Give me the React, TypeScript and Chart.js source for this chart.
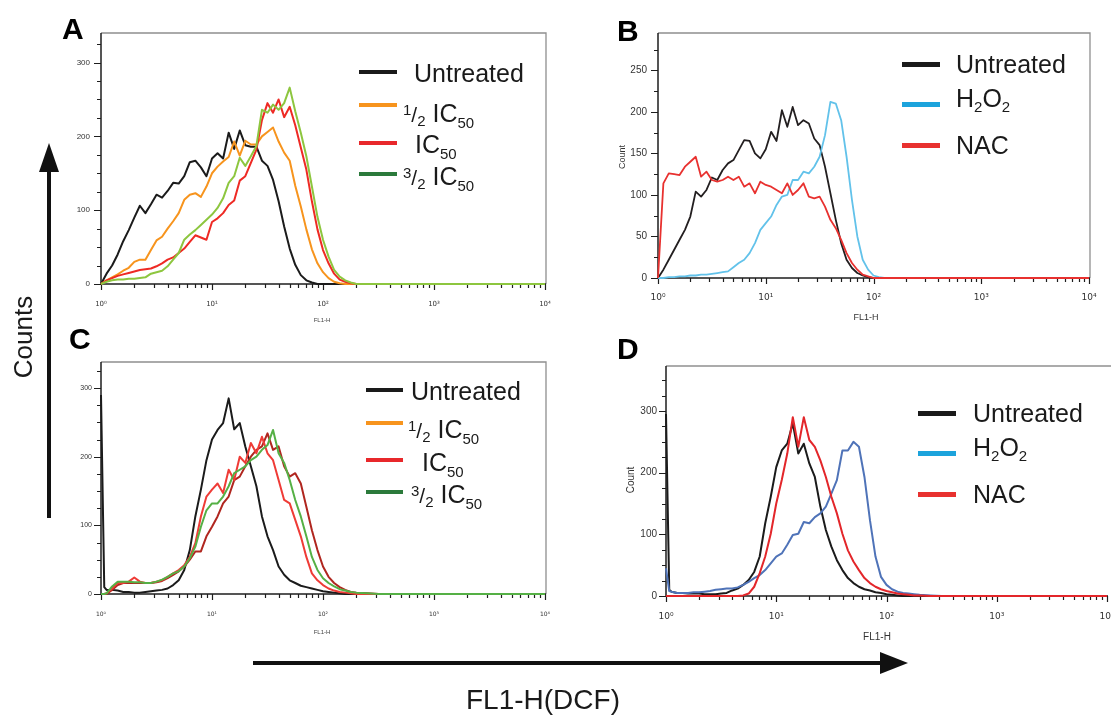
import React, { useEffect, useRef } from 'react';
import { Chart, registerables } from 'chart.js';

Chart.register(...registerables);

const FONT = '"Liberation Sans", Arial, Helvetica, sans-serif';
const TICK_FONT = '"DejaVu Sans", "Liberation Sans", sans-serif';

// ---------- channel bins (FL1-H fluorescence) ----------
const channels = [1, 1.122, 1.259, 1.413, 1.585, 1.778, 1.995, 2.239, 2.512, 2.818,
  3.162, 3.548, 3.981, 4.467, 5.012, 5.623, 6.31, 7.079, 7.943, 8.913,
  10, 11.22, 12.59, 14.13, 15.85, 17.78, 19.95, 22.39, 25.12, 28.18,
  31.62, 35.48, 39.81, 44.67, 50.12, 56.23, 63.1, 70.79, 79.43, 89.13,
  100, 112.2, 125.9, 141.3, 158.5, 177.8, 199.5, 251.2, 316.2, 1000, 10000];

const channelsSpike = [1, 1.07, 1.122, 1.259, 1.413, 1.585, 1.778, 1.995, 2.239, 2.512, 2.818,
  3.162, 3.548, 3.981, 4.467, 5.012, 5.623, 6.31, 7.079, 7.943, 8.913,
  10, 11.22, 12.59, 14.13, 15.85, 17.78, 19.95, 22.39, 25.12, 28.18,
  31.62, 35.48, 39.81, 44.67, 50.12, 56.23, 63.1, 70.79, 79.43, 89.13,
  100, 112.2, 125.9, 141.3, 158.5, 177.8, 199.5, 251.2, 316.2, 1000, 10000];

// ---------- Panel A ----------
const untreatedA = [0, 14, 25, 40, 58, 73, 90, 106, 96, 108,
  121, 117, 126, 137, 136, 146, 165, 167, 158, 146,
  170, 177, 170, 205, 183, 208, 188, 186, 186, 167,
  160, 141, 112, 78, 48, 26, 12, 5, 2, 0,
  0, 0, 0, 0, 0, 0, 0, 0, 0, 0, 0];
const halfIC50A = [0, 5, 9, 13, 18, 22, 30, 33, 33, 46,
  59, 64, 75, 85, 96, 114, 121, 123, 118, 132,
  150, 159, 166, 172, 193, 174, 194, 189, 189, 200,
  206, 212, 193, 178, 167, 133, 105, 74, 47, 28,
  16, 8, 3, 1, 0, 0, 0, 0, 0, 0, 0];
const ic50A = [0, 5, 8, 11, 13, 15, 17, 19, 20, 21,
  24, 28, 33, 36, 42, 48, 57, 66, 63, 60,
  84, 89, 96, 107, 113, 140, 146, 164, 182, 222,
  245, 232, 250, 226, 240, 215, 185, 155, 112, 74,
  46, 28, 14, 6, 3, 1, 0, 0, 0, 0, 0];
const threeHalfIC50A = [0, 3, 5, 6, 6, 7, 7, 8, 9, 14,
  16, 18, 24, 33, 42, 60, 67, 73, 80, 87,
  94, 103, 116, 137, 146, 171, 160, 173, 187, 236,
  232, 243, 236, 245, 266, 234, 205, 173, 132, 91,
  60, 37, 19, 10, 5, 2, 0, 0, 0, 0, 0];

// ---------- Panel B ----------
const untreatedB = [0, 10, 22, 34, 46, 58, 74, 104, 98, 106,
  121, 118, 130, 138, 142, 154, 166, 165, 150, 144,
  155, 176, 165, 202, 182, 206, 184, 190, 186, 168,
  160, 134, 102, 70, 42, 22, 12, 6, 3, 1,
  0, 0, 0, 0, 0, 0, 0, 0, 0, 0, 0];
const h2o2B = [0, 0, 1, 1, 2, 2, 3, 3, 4, 4,
  5, 6, 7, 8, 13, 18, 22, 30, 42, 58,
  66, 74, 88, 98, 100, 118, 118, 128, 126, 134,
  146, 172, 212, 210, 190, 146, 94, 50, 22, 10,
  3, 1, 0, 0, 0, 0, 0, 0, 0, 0, 0];
const nacB = [0, 114, 126, 125, 124, 134, 140, 146, 122, 128,
  118, 116, 118, 122, 118, 122, 110, 114, 102, 116,
  112, 110, 106, 102, 114, 100, 106, 114, 98, 96,
  98, 86, 70, 60, 46, 30, 18, 10, 4, 2,
  0, 0, 0, 0, 0, 0, 0, 0, 0, 0, 0];

// ---------- Panel C ----------
const untreatedC = [290, 10, 6, 6, 5, 3, 3, 2, 2, 3, 4,
  5, 6, 8, 13, 20, 35, 64, 113, 152, 195,
  225, 239, 249, 285, 240, 249, 215, 186, 157, 113,
  84, 64, 40, 28, 20, 16, 12, 10, 8, 6,
  4, 3, 2, 1, 0, 0, 0, 0, 0, 0, 0];
const halfIC50C = [0, 0, 0, 6, 13, 16, 16, 16, 16, 16, 16,
  17, 19, 23, 28, 33, 40, 50, 62, 62, 84,
  98, 113, 132, 142, 166, 171, 186, 200, 210, 215,
  234, 210, 215, 186, 171, 176, 161, 127, 93, 64,
  40, 25, 16, 10, 6, 3, 2, 1, 0, 0, 0];
const ic50C = [0, 0, 1, 8, 16, 16, 18, 24, 18, 16, 16,
  18, 20, 25, 30, 35, 42, 54, 74, 113, 142,
  152, 161, 147, 181, 166, 200, 191, 220, 205, 229,
  205, 195, 166, 137, 132, 108, 84, 54, 30, 20,
  13, 8, 5, 3, 2, 1, 0, 0, 0, 0, 0];
const threeHalfIC50C = [0, 0, 1, 11, 18, 18, 18, 17, 17, 16, 16,
  18, 21, 25, 30, 33, 40, 52, 69, 98, 122,
  132, 132, 142, 157, 176, 181, 186, 195, 200, 210,
  217, 239, 205, 191, 166, 137, 113, 84, 54, 35,
  23, 16, 11, 7, 5, 3, 2, 1, 0, 0, 0];

// ---------- Panel D ----------
const untreatedD = [295, 10, 7, 5, 5, 4, 4, 4, 3, 3, 3,
  4, 5, 9, 12, 18, 26, 39, 64, 118, 161,
  209, 236, 247, 280, 231, 247, 215, 193, 145, 107,
  80, 58, 42, 29, 21, 15, 11, 9, 6, 5,
  3, 2, 1, 0, 0, 0, 0, 0, 0, 0, 0];
const h2o2D = [45, 8, 7, 5, 5, 5, 6, 6, 7, 8, 10,
  11, 12, 12, 14, 18, 23, 29, 34, 42, 53,
  64, 69, 83, 99, 101, 120, 118, 128, 134, 145,
  166, 188, 236, 236, 250, 242, 193, 123, 64, 31,
  18, 11, 7, 5, 4, 3, 2, 1, 0, 0, 0];
const nacD = [0, 0, 0, 0, 0, 0, 0, 0, 0, 0, 0,
  0, 0, 0, 0, 1, 4, 15, 37, 64, 101,
  150, 188, 231, 290, 242, 290, 253, 242, 220, 193,
  161, 134, 101, 74, 56, 42, 29, 21, 15, 11,
  8, 6, 4, 3, 2, 1, 1, 0, 0, 0, 0];

// ---------- axis ticks ----------
const decades = [1, 10, 100, 1000, 10000];
const minorSteps = [2, 3, 4, 5, 6, 7, 8, 9];
const decadeLabels = ['10\u2070', '10\u00B9', '10\u00B2', '10\u00B3', '10\u2074'];

type Series = { label: string; values: number[]; color: string; width: number };
type Spec = {
  left: number; top: number; width: number; height: number;
  areaLeft: number; areaTop: number; areaRight: number; areaBottom: number;
  frameRight: boolean;
  yMax: number; yStep: number; yMajor: number; tickFont: number; xTickFont: number; xPad: number; yPad: number;
  bins: number[]; series: Series[];
};

const panelA: Spec = {
  left: 30, top: 15, width: 530, height: 315,
  areaLeft: 101, areaTop: 33, areaRight: 545, areaBottom: 284, frameRight: true,
  yMax: 340, yStep: 25, yMajor: 100, tickFont: 8, xTickFont: 7, xPad: 16, yPad: 11,
  bins: channels,
  series: [
    { label: 'Untreated', values: untreatedA, color: '#1b1b1b', width: 2 },
    { label: '1/2 IC50', values: halfIC50A, color: '#f7941d', width: 2 },
    { label: 'IC50', values: ic50A, color: '#ee2a24', width: 2 },
    { label: '3/2 IC50', values: threeHalfIC50A, color: '#8dc63f', width: 2 },
  ],
};
const panelB: Spec = {
  left: 595, top: 15, width: 510, height: 315,
  areaLeft: 658, areaTop: 33, areaRight: 1089, areaBottom: 278, frameRight: true,
  yMax: 295, yStep: 25, yMajor: 50, tickFont: 10, xTickFont: 9, xPad: 14, yPad: 11,
  bins: channels,
  series: [
    { label: 'Untreated', values: untreatedB, color: '#231f20', width: 1.8 },
    { label: 'H2O2', values: h2o2B, color: '#62c2ea', width: 1.8 },
    { label: 'NAC', values: nacB, color: '#e8312f', width: 1.8 },
  ],
};
const panelC: Spec = {
  left: 30, top: 345, width: 530, height: 305,
  areaLeft: 101, areaTop: 362, areaRight: 545, areaBottom: 594, frameRight: true,
  yMax: 338, yStep: 25, yMajor: 100, tickFont: 7, xTickFont: 6, xPad: 17, yPad: 9,
  bins: channelsSpike,
  series: [
    { label: 'Untreated', values: untreatedC, color: '#1b1b1b', width: 2 },
    { label: '1/2 IC50', values: halfIC50C, color: '#b0261f', width: 2 },
    { label: 'IC50', values: ic50C, color: '#ef3b36', width: 2 },
    { label: '3/2 IC50', values: threeHalfIC50C, color: '#55b045', width: 2 },
  ],
};
const panelD: Spec = {
  left: 600, top: 350, width: 530, height: 300,
  areaLeft: 666, areaTop: 366, areaRight: 1107, areaBottom: 596, frameRight: false,
  yMax: 373, yStep: 25, yMajor: 100, tickFont: 10, xTickFont: 9, xPad: 15, yPad: 9,
  bins: channelsSpike,
  series: [
    { label: 'Untreated', values: untreatedD, color: '#1b1b1b', width: 2 },
    { label: 'H2O2', values: h2o2D, color: '#4f73b8', width: 2 },
    { label: 'NAC', values: nacD, color: '#e3262a', width: 2 },
  ],
};

function isDecade(v: number) {
  const e = Math.log10(v);
  return Math.abs(e - Math.round(e)) < 1e-6;
}

function Histogram({ spec }: { spec: Spec }) {
  const ref = useRef<HTMLCanvasElement | null>(null);
  useEffect(() => {
    const canvas = ref.current;
    if (!canvas) return;
    const yAxisWidth = spec.areaLeft - spec.left;
    const xAxisHeight = spec.top + spec.height - spec.areaBottom;
    const padTop = spec.areaTop - spec.top;
    const padRight = spec.left + spec.width - spec.areaRight;

    const framePlugin = {
      id: 'frame',
      beforeDatasetsDraw(chart: any) {
        const { ctx, chartArea } = chart;
        const { left, right, top, bottom } = chartArea;
        const xs = chart.scales.x;
        const ys = chart.scales.y;
        ctx.save();
        ctx.strokeStyle = '#8f8f8f';
        ctx.lineWidth = 1.3;
        ctx.beginPath();
        ctx.moveTo(left, top);
        if (spec.frameRight) {
          ctx.lineTo(right + 1, top);
          ctx.lineTo(right + 1, bottom);
        } else {
          ctx.lineTo(chart.width, top);
        }
        ctx.stroke();
        ctx.strokeStyle = '#1e1e1e';
        ctx.lineWidth = 1.5;
        ctx.beginPath();
        ctx.moveTo(left, top);
        ctx.lineTo(left, bottom);
        ctx.lineTo(right + 1, bottom);
        ctx.stroke();
        ctx.lineWidth = 1.2;
        ctx.beginPath();
        ys.ticks.forEach((t: any) => {
          const py = Math.round(ys.getPixelForValue(t.value)) + 0.5;
          const len = t.value % spec.yMajor === 0 ? 7 : 4;
          ctx.moveTo(left - len, py);
          ctx.lineTo(left, py);
        });
        xs.ticks.forEach((t: any) => {
          const px = Math.round(xs.getPixelForValue(t.value)) + 0.5;
          const len = isDecade(t.value) ? 6 : 4;
          ctx.moveTo(px, bottom);
          ctx.lineTo(px, bottom + len);
        });
        ctx.stroke();
        ctx.restore();
      },
    };

    const n = spec.series.length;
    const chart = new Chart(canvas, {
      type: 'line',
      data: {
        datasets: spec.series.map((s, i) => ({
          label: s.label,
          data: spec.bins.map((x, j) => ({ x, y: s.values[j] })),
          borderColor: s.color,
          backgroundColor: s.color,
          borderWidth: s.width,
          pointRadius: 0,
          tension: 0,
          fill: false,
          borderJoinStyle: 'round',
          order: n - i,
          clip: 8,
        })),
      },
      options: {
        responsive: false,
        maintainAspectRatio: false,
        animation: false,
        events: [],
        layout: { padding: { top: padTop, right: padRight, left: 0, bottom: 0 } },
        plugins: { legend: { display: false }, tooltip: { enabled: false }, title: { display: false } },
        scales: {
          x: {
            type: 'logarithmic',
            min: 1,
            max: 10000,
            grid: { display: false, drawTicks: true, tickLength: spec.xPad },
            border: { display: false },
            afterBuildTicks: (axis: any) => {
              const list: any[] = [];
              decades.forEach((d) => {
                list.push({ value: d });
                if (d < 10000) minorSteps.forEach((m) => list.push({ value: d * m }));
              });
              axis.ticks = list;
            },
            ticks: {
              autoSkip: false,
              maxRotation: 0,
              minRotation: 0,
              padding: 0,
              color: '#333',
              font: { family: TICK_FONT, size: spec.xTickFont },
              callback: (v: any) => {
                const val = Number(v);
                if (!isDecade(val)) return '';
                return decadeLabels[Math.round(Math.log10(val))];
              },
            },
            afterFit: (axis: any) => { axis.height = xAxisHeight; },
          },
          y: {
            type: 'linear',
            min: 0,
            max: spec.yMax,
            grid: { display: false, drawTicks: true, tickLength: spec.yPad },
            border: { display: false },
            afterBuildTicks: (axis: any) => {
              const list: any[] = [];
              for (let v = 0; v <= spec.yMax; v += spec.yStep) list.push({ value: v });
              axis.ticks = list;
            },
            ticks: {
              autoSkip: false,
              padding: 0,
              color: '#333',
              font: { family: FONT, size: spec.tickFont },
              callback: (v: any) => (Number(v) % spec.yMajor === 0 ? String(v) : ''),
            },
            afterFit: (axis: any) => { axis.width = yAxisWidth; },
          },
        },
      },
      plugins: [framePlugin],
    } as any);
    return () => chart.destroy();
  }, [spec]);
  return (
    <canvas
      ref={ref}
      width={spec.width}
      height={spec.height}
      style={{ position: 'absolute', left: spec.left, top: spec.top, width: spec.width, height: spec.height }}
    />
  );
}

function Text({ x, y, size, children, rotate = 0, weight = 400, color = '#1a1a1a' }: any) {
  return (
    <div
      style={{
        position: 'absolute', left: x, top: y, fontSize: size, lineHeight: 1, fontWeight: weight, color,
        whiteSpace: 'nowrap', transform: `translate(-50%, -50%) rotate(${rotate}deg)`, fontFamily: FONT,
      }}
    >
      {children}
    </div>
  );
}

function LegendEntry({ x1, x2, lineY, color, thick, textX, textY, children }: any) {
  return (
    <>
      <div style={{ position: 'absolute', left: x1, top: lineY - thick / 2, width: x2 - x1, height: thick, background: color }} />
      <div
        style={{
          position: 'absolute', left: textX, top: textY - 12.5, fontSize: 25, lineHeight: '25px',
          whiteSpace: 'nowrap', color: '#1a1a1a', fontFamily: FONT,
        }}
      >
        {children}
      </div>
    </>
  );
}

const supS = { fontSize: 15, verticalAlign: 7, lineHeight: 0 } as any;
const subS = { fontSize: 15, verticalAlign: -6, lineHeight: 0 } as any;
const slashS = { fontSize: 21, lineHeight: 0 } as any;

function Frac({ num }: { num: string }) {
  return (
    <>
      <span style={supS}>{num}</span>
      <span style={slashS}>/</span>
      <span style={{ ...subS, verticalAlign: -4 }}>2</span>
    </>
  );
}
function IC50() {
  return (
    <>
      IC<span style={subS}>50</span>
    </>
  );
}
function H2O2() {
  return (
    <>
      H<span style={{ ...subS, verticalAlign: -5 }}>2</span>O<span style={{ ...subS, verticalAlign: -5 }}>2</span>
    </>
  );
}

// row layout of the IC50 legends: [line y, text x, text y]
const legendRowsA = [[72, 414, 73], [105, 403, 113], [143, 415, 144], [174, 403, 176]];
const legendRowsC = [[390, 411, 391], [423, 408, 429], [460, 422, 462], [492, 411, 494]];

export default function App() {
  const legendIC = (x1: number, x2: number, rows: number[][], thick: number) => (
    <>
      <LegendEntry x1={x1} x2={x2} lineY={rows[0][0]} color="#1a1a1a" thick={thick} textX={rows[0][1]} textY={rows[0][2]}>Untreated</LegendEntry>
      <LegendEntry x1={x1} x2={x2} lineY={rows[1][0]} color="#f7941d" thick={thick} textX={rows[1][1]} textY={rows[1][2]}>
        <Frac num="1" />&nbsp;<IC50 />
      </LegendEntry>
      <LegendEntry x1={x1} x2={x2} lineY={rows[2][0]} color="#e8282b" thick={thick} textX={rows[2][1]} textY={rows[2][2]}>
        <IC50 />
      </LegendEntry>
      <LegendEntry x1={x1} x2={x2} lineY={rows[3][0]} color="#2b7a3b" thick={thick} textX={rows[3][1]} textY={rows[3][2]}>
        <Frac num="3" />&nbsp;<IC50 />
      </LegendEntry>
    </>
  );
  const legendROS = (x1: number, x2: number, tx: number, ys: number[]) => (
    <>
      <LegendEntry x1={x1} x2={x2} lineY={ys[0]} color="#1a1a1a" thick={5} textX={tx} textY={ys[0]}>Untreated</LegendEntry>
      <LegendEntry x1={x1} x2={x2} lineY={ys[1]} color="#1ca3dc" thick={5} textX={tx} textY={ys[1] - 6}>
        <H2O2 />
      </LegendEntry>
      <LegendEntry x1={x1} x2={x2} lineY={ys[2]} color="#e8312f" thick={5} textX={tx} textY={ys[2]}>NAC</LegendEntry>
    </>
  );

  return (
    <div
      style={{
        position: 'absolute', left: 0, top: 0, width: 1111, height: 719, background: '#fff',
        overflow: 'hidden', fontFamily: FONT,
      }}
    >
      <Histogram spec={panelA} />
      <Histogram spec={panelB} />
      <Histogram spec={panelC} />
      <Histogram spec={panelD} />

      {/* panel letters */}
      <div style={{ position: 'absolute', left: 62, top: 14, fontSize: 30, lineHeight: '30px', fontWeight: 700, fontFamily: FONT }}>A</div>
      <div style={{ position: 'absolute', left: 617, top: 16, fontSize: 30, lineHeight: '30px', fontWeight: 700, fontFamily: FONT }}>B</div>
      <div style={{ position: 'absolute', left: 69, top: 324, fontSize: 30, lineHeight: '30px', fontWeight: 700, fontFamily: FONT }}>C</div>
      <div style={{ position: 'absolute', left: 617, top: 334, fontSize: 30, lineHeight: '30px', fontWeight: 700, fontFamily: FONT }}>D</div>

      {/* small axis titles */}
      <Text x={322} y={320} size={6} color="#444">FL1-H</Text>
      <Text x={866} y={317} size={9} color="#333">FL1-H</Text>
      <Text x={622} y={157} size={9} rotate={-90} color="#333">Count</Text>
      <Text x={322} y={632} size={6} color="#444">FL1-H</Text>
      <Text x={877} y={637} size={10} color="#333">FL1-H</Text>
      <Text x={631} y={480} size={10} rotate={-90} color="#333">Count</Text>

      {/* legends */}
      {legendIC(359, 397, legendRowsA, 4)}
      {legendIC(366, 403, legendRowsC, 4)}
      {legendROS(902, 940, 956, [64, 104, 145])}
      {legendROS(918, 956, 973, [413, 453, 494])}

      {/* global axis arrows and titles */}
      <svg width={1111} height={719} style={{ position: 'absolute', left: 0, top: 0, pointerEvents: 'none' }}>
        <line x1={49} y1={518} x2={49} y2={168} stroke="#111" strokeWidth={4} />
        <polygon points="49,143 39,172 59,172" fill="#111" />
        <line x1={253} y1={663} x2={884} y2={663} stroke="#111" strokeWidth={4} />
        <polygon points="908,663 880,652 880,674" fill="#111" />
      </svg>
      <Text x={23} y={337} size={26} rotate={-90}>Counts</Text>
      <Text x={543} y={700} size={28}>FL1-H(DCF)</Text>
    </div>
  );
}
